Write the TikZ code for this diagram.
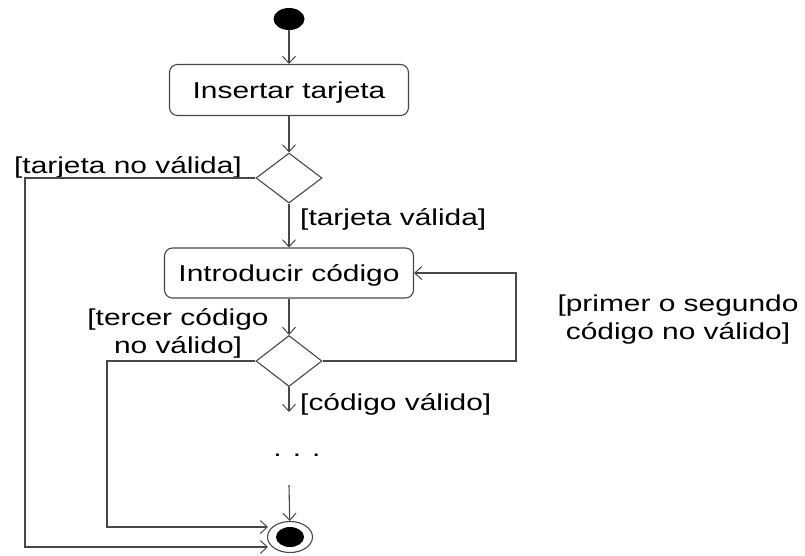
\documentclass[tikz,border=0pt]{standalone}
\usepackage{fontspec}
\setmainfont{Liberation Sans}[FakeStretch=1.3]
\usetikzlibrary{shapes.geometric,arrows.meta}
\begin{document}
\begin{tikzpicture}[x=1pt,y=-1pt,
  line/.style={draw=black!72, line width=1.1pt},
  arr/.style={line, -{Straight Barb[length=7pt,width=13pt,line width=1pt]}},
  action/.style={draw=black!72, line width=1.1pt, rounded corners=8pt, inner sep=0pt,
    text height=17pt, text depth=0pt, font=\fontsize{23}{28}\selectfont},
  decision/.style={draw=black!72, line width=1.1pt, diamond, inner sep=0pt,
    minimum width=66pt, minimum height=50pt},
  guard/.style={font=\fontsize{23}{28}\selectfont, inner sep=0pt, align=center}
]
\useasboundingbox (0,0) rectangle (805,555);
\node[ellipse, fill=black, minimum width=31pt, minimum height=22pt, inner sep=0pt] (start) at (289,19) {};
\node[action, minimum width=239pt, minimum height=51pt] (ins) at (289,90) {Insertar tarjeta};
\node[decision] (d1) at (289,178) {};
\node[action, minimum width=249pt, minimum height=50pt] (intro) at (289,273) {Introducir código};
\node[decision, minimum height=51pt] (d2) at (289,361) {};
\node[guard, anchor=base] (dots) at (297,456) {. . .};
\node[ellipse, draw=black!72, line width=1.1pt, minimum width=45pt, minimum height=31pt, inner sep=0pt] (end) at (290,537) {};
\node[ellipse, fill=black, minimum width=28pt, minimum height=20pt, inner sep=0pt] (endin) at (end.center) {};

\node[guard, anchor=base] (g1) at (128,173) {[tarjeta no válida]};
\node[guard, anchor=base west] (g2) at (300,225) {[tarjeta válida]};
\node[guard, anchor=base] (g3) at (178,353) {[tercer código\\no válido]};
\node[guard, anchor=base] (g4) at (678,339) {[primer o segundo\\código no válido]};
\node[guard, anchor=base west] (g5) at (300,410) {[código válido]};

\draw[arr] (start) -- (ins);
\draw[arr] (ins) -- (d1);
\draw[arr] (d1) -- (intro);
\draw[arr] (intro) -- (d2);
\coordinate (cv) at (289,412);
\draw[arr] (d2) -- (cv);
\coordinate (dotsout) at (289,485);
\draw[arr] (dotsout) -- (end);
\coordinate (c1) at (25,547);
\coordinate (e1) at (268,547);
\draw[arr] (d1.west) -| (c1) -- (e1);
\coordinate (c2) at (107,527);
\coordinate (e2) at (268,527);
\draw[arr] (d2.west) -| (c2) -- (e2);
\coordinate (c3) at (516,273);
\draw[arr] (d2.east) -| (c3) -- (intro.east);
\end{tikzpicture}
\end{document}
